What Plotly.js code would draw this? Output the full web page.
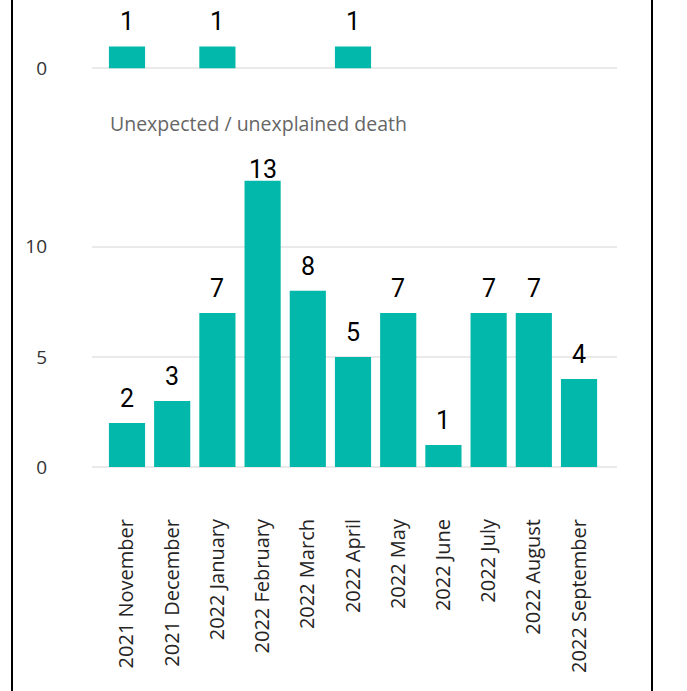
<!DOCTYPE html>
<html>
<head>
<meta charset="utf-8">
<script src="https://cdn.plot.ly/plotly-3.0.1.min.js"></script>
<style>
  html, body { margin: 0; padding: 0; background: #ffffff; }
  #wrap { position: relative; width: 687px; height: 691px; overflow: hidden; }
  #frame { position: absolute; left: 11px; top: -10px; width: 638px; height: 720px;
           border-left: 2px solid #000; border-right: 2px solid #000; z-index: 0; }
  #chart { position: absolute; left: 0; top: 0; width: 687px; height: 691px; z-index: 1; }
</style>
</head>
<body>
<div id="wrap">
  <div id="frame"></div>
  <div id="chart"></div>
</div>
<script>
// ---- data ----
const months = ["2021 November", "2021 December", "2022 January", "2022 February",
                "2022 March", "2022 April", "2022 May", "2022 June", "2022 July",
                "2022 August", "2022 September"];
const topMonths = ["2021 November", "2022 January", "2022 April"];
const topValues = [1, 1, 1];
const deathTitle = "Unexpected / unexplained death";
const deathValues = [2, 3, 7, 13, 8, 5, 7, 1, 7, 7, 4];
const bottomTicks = [0, 5, 10];
const topTicks = [0];

// ---- style ----
const teal = "#01B8AA";
const bottomMax = 14.15;
const topMax = 3.13;
const labelFont = {family: "Roboto", size: 25, color: "#000000"};
const tickFont = {family: "Open Sans", size: 19, color: "#333333"};
const gridColor = "#eaeaea";

const traces = [
  {type: "bar", x: topMonths, y: topValues, xaxis: "x2", yaxis: "y2",
   marker: {color: teal}, hoverinfo: "x+y"},
  {type: "bar", x: months, y: deathValues, xaxis: "x", yaxis: "y",
   marker: {color: teal}, hoverinfo: "x+y"}
];

function labels(xs, ys, xref, yref, ymax) {
  return xs.map((m, i) => {
    const v = ys[i];
    const clamp = v + 1.3 > ymax;
    return {
      x: m, y: clamp ? ymax : v, xref: xref, yref: yref,
      text: String(v), showarrow: false,
      yanchor: clamp ? "top" : "bottom",
      yshift: clamp ? 2 : 8,
      font: labelFont
    };
  });
}

const xrange = [-0.774, 10.84];
const yAxisCommon = {
  tickfont: tickFont, ticklabelstandoff: 44,
  showgrid: true, gridcolor: gridColor, gridwidth: 2,
  zeroline: true, zerolinecolor: gridColor, zerolinewidth: 2,
  showline: false, ticks: ""
};
const layout = {
  width: 687, height: 691,
  margin: {l: 92, r: 70, t: 0, b: 223},
  paper_bgcolor: "rgba(0,0,0,0)",
  plot_bgcolor: "rgba(0,0,0,0)",
  showlegend: false,
  bargap: 0.2,
  xaxis: {
    type: "category", categoryorder: "array", categoryarray: months,
    range: xrange, anchor: "y",
    tickangle: -90, ticklabelstandoff: 46,
    tickfont: {family: "Open Sans", size: 20, color: "#252423"},
    showgrid: false, zeroline: false, showline: false, ticks: ""
  },
  yaxis: Object.assign({
    domain: [0, 0.668], range: [-0.04, bottomMax],
    tickvals: bottomTicks, ticktext: bottomTicks.map(String)
  }, yAxisCommon),
  xaxis2: {
    type: "category", categoryorder: "array", categoryarray: months,
    range: xrange, anchor: "y2", matches: "x",
    showticklabels: false, showgrid: false, zeroline: false, showline: false, ticks: ""
  },
  yaxis2: Object.assign({
    domain: [0.8522, 1], range: [-0.04, topMax],
    tickvals: topTicks, ticktext: topTicks.map(String)
  }, yAxisCommon),
  annotations: [
    ...labels(topMonths, topValues, "x2", "y2", topMax),
    ...labels(months, deathValues, "x", "y", bottomMax),
    {text: deathTitle, xref: "paper", yref: "paper", x: 0.03, y: 0.737,
     xanchor: "left", yanchor: "middle", showarrow: false,
     font: {family: "Open Sans", size: 19.5, color: "#666666"}}
  ]
};

Plotly.newPlot("chart", traces, layout, {displayModeBar: false, staticPlot: true});
</script>
</body>
</html>
